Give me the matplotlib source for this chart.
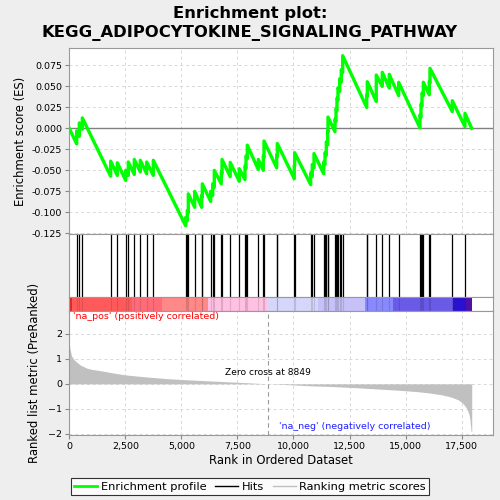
import matplotlib
matplotlib.use("Agg")
import matplotlib.pyplot as plt
from matplotlib.lines import Line2D

plt.rcParams['font.family'] = ['DejaVu Sans']

n_genes = 17950
zero_cross = 8849

# hit positions with the running ES just before and just after each hit
hit_ranks = [330, 446, 580, 1846, 2141, 2516, 2632, 2899, 3167, 3452, 3746,
             5191, 5263, 5307, 5593, 5905, 5932, 6307, 6396, 6467, 6779, 6811,
             7177, 7582, 7836, 7881, 7939, 8429, 8653, 8684, 9250, 9277,
             10035, 10053, 10767, 10838, 10914, 11346, 11405, 11463, 11525, 11538,
             11850, 11895, 11939, 11984, 12060, 12131, 12194,
             13265, 13291, 13692, 13960, 14272, 14691,
             15641, 15686, 15731, 15790, 16056, 16087, 17082, 17648]
es_before = [-0.0185, -0.0095, -0.001, -0.057, -0.056, -0.062, -0.056, -0.055, -0.052, -0.054, -0.056,
             -0.116, -0.110, -0.1005, -0.094, -0.094, -0.0815, -0.087, -0.080, -0.070, -0.066, -0.054,
             -0.0575, -0.063, -0.061, -0.0475, -0.036, -0.049, -0.050, -0.035, -0.047, -0.0335,
             -0.060, -0.045, -0.067, -0.057, -0.047, -0.054, -0.043, -0.032, -0.0195, -0.004,
             -0.004, 0.0085, 0.021, 0.0335, 0.044, 0.055, 0.0665,
             0.025, 0.0385, 0.032, 0.050, 0.048, 0.039,
             0.0005, 0.0135, 0.0265, 0.039, 0.040, 0.054, 0.020, 0.002]
es_after = [-0.003, 0.0065, 0.0125, -0.039, -0.041, -0.050, -0.040, -0.037, -0.038, -0.040, -0.038,
            -0.106, -0.098, -0.078, -0.075, -0.080, -0.066, -0.075, -0.066, -0.050, -0.052, -0.037,
            -0.0405, -0.048, -0.045, -0.033, -0.020, -0.037, -0.033, -0.015, -0.032, -0.018,
            -0.044, -0.029, -0.053, -0.043, -0.030, -0.040, -0.029, -0.016, -0.003, 0.0135,
            0.011, 0.0235, 0.036, 0.0485, 0.059, 0.070, 0.0866,
            0.040, 0.0556, 0.0636, 0.0668, 0.0644, 0.0549,
            0.016, 0.029, 0.042, 0.055, 0.056, 0.0716, 0.033, 0.018]

# ranked list metric read at a few ranks
metric_ranks = [0, 30, 100, 200, 330, 500, 780, 1000, 1370, 2000, 2480, 3400, 4340,
                5300, 6200, 7100, 8050, 8849, 9920, 10800, 11780, 12700, 13640,
                14600, 15500, 16100, 16610, 17000, 17350, 17550, 17720, 17820,
                17870, 17920, 17950]
metric_vals = [1.65, 1.4, 1.12, 0.98, 0.87, 0.75, 0.63, 0.58, 0.53, 0.43, 0.36, 0.28, 0.21,
               0.16, 0.12, 0.08, 0.04, 0.0, -0.04, -0.08, -0.11, -0.15, -0.2,
               -0.25, -0.31, -0.37, -0.44, -0.52, -0.64, -0.78, -0.97, -1.2,
               -1.44, -1.9, -1.9]

# colour strip under the hits
band_edges = [0, 107, 2783, 4121, 6173, 8804, 11105, 13188, 14450, 17126, 17648, 17947]
band_colors = ['#e02828', '#ff5a5a', '#ff6c78', '#ff8888', '#ffc0e2', '#d6d6fa',
               '#c6c2f8', '#8888ff', '#6a5ae8', '#2a10d0', '#5010a8']

xmax = 18885
xticks = [0, 2500, 5000, 7500, 10000, 12500, 15000, 17500]
es_ticks = [-0.125, -0.100, -0.075, -0.050, -0.025, 0.000, 0.025, 0.050, 0.075]
grid_kw = dict(color='#d8d8d8', linestyle=(0, (3, 3)), linewidth=0.7)

fig = plt.figure(figsize=(5, 5), dpi=100, facecolor='#eeeeee')
L, W = 0.1386, 0.8468
ax1 = fig.add_axes([L, 0.532, W, 0.3714])
ax2 = fig.add_axes([L, 0.4066, W, 0.1254])
ax3 = fig.add_axes([L, 0.378, W, 0.0286])
ax4 = fig.add_axes([L, 0.13, W, 0.248])

# enrichment profile
xs, ys = [0], [0.0]
for r, lo, hi in zip(hit_ranks, es_before, es_after):
    xs += [r, r]
    ys += [lo, hi]
xs.append(n_genes)
ys.append(0.0)
for t in xticks:
    ax1.axvline(t, **grid_kw, zorder=0)
for t in es_ticks:
    ax1.axhline(t, **grid_kw, zorder=0)
ax1.axhline(0, color='#808080', linewidth=1, zorder=1)
ax1.plot(xs, ys, color='#00ff00', linewidth=2.4, zorder=3)
ax1.set_xlim(0, xmax)
ax1.set_ylim(-0.1258, 0.0954)
ax1.set_yticks(es_ticks)
ax1.set_yticklabels(['%.3f' % t for t in es_ticks])
ax1.set_xticks([])
ax1.set_ylabel('Enrichment score (ES)', fontsize=8.4)
fig.text(0.5, 0.953, 'Enrichment plot:\nKEGG_ADIPOCYTOKINE_SIGNALING_PATHWAY',
         fontsize=11.8, fontweight='bold', ha='center', va='center', linespacing=1.3)

# hits
for r in hit_ranks:
    ax2.axvline(r, color='black', linewidth=0.9)
ax2.set_xlim(0, xmax)
ax2.set_ylim(0, 1)
ax2.set_xticks([])
ax2.set_yticks([])

# colour strip
for i, c in enumerate(band_colors):
    ax3.axvspan(band_edges[i], band_edges[i + 1], color=c, linewidth=0)
for r in hit_ranks:
    ax3.axvline(r, color='black', alpha=0.12, linewidth=0.8)
ax3.set_xlim(0, xmax)
ax3.set_ylim(0, 1)
ax3.set_xticks([])
ax3.set_yticks([])

# ranked list metric
for t in xticks:
    ax4.axvline(t, **grid_kw, zorder=0)
for t in [-2, -1, 0, 1, 2]:
    ax4.axhline(t, **grid_kw, zorder=0)
ax4.fill_between(metric_ranks, metric_vals, 0, color='#c0c0c0', linewidth=0, zorder=2)
ax4.axvline(zero_cross, color='#999999', linestyle=(0, (4, 3)), linewidth=0.8, zorder=3)
ax4.text(zero_cross, 0.45, 'Zero cross at %d' % zero_cross, ha='center', va='center', fontsize=6.6)
ax4.text(150, 2.68, "'na_pos' (positively correlated)", color='red', fontsize=6.8,
         ha='left', va='center')
ax4.text(9370, -1.72, "'na_neg' (negatively correlated)", color='#2020ff', fontsize=6.8,
         ha='left', va='center')
ax4.set_xlim(0, xmax)
ax4.set_ylim(-2.05, 2.92)
ax4.set_xticks(xticks)
ax4.set_xticklabels(['{:,}'.format(t) for t in xticks])
ax4.set_yticks([-2, -1, 0, 1, 2])
ax4.set_xlabel('Rank in Ordered Dataset', fontsize=8.4, labelpad=2)
ax4.set_ylabel('Ranked list metric (PreRanked)', fontsize=8.4)

for ax in (ax1, ax2, ax3, ax4):
    ax.tick_params(labelsize=6.8, length=3, color='#888888', pad=2)
    for s in ax.spines.values():
        s.set_color('#999999')
        s.set_linewidth(0.8)

ax1.yaxis.set_label_coords(-0.1, 0.5)
ax4.yaxis.set_label_coords(-0.066, 0.5)

handles = [Line2D([], [], color='#00ff00', linewidth=2),
           Line2D([], [], color='black', linewidth=1),
           Line2D([], [], color='#c0c0c0', linewidth=1)]
leg = fig.legend(handles, ['Enrichment profile', 'Hits', 'Ranking metric scores'],
                 loc='center', bbox_to_anchor=(0.5, 0.0266), ncol=3, fontsize=8.2,
                 frameon=True, fancybox=False, handlelength=2, columnspacing=0.8,
                 handletextpad=0.3, borderpad=0.3, edgecolor='black')
leg.get_frame().set_linewidth(0.8)

fig.savefig('out.png', dpi=100, facecolor=fig.get_facecolor())
